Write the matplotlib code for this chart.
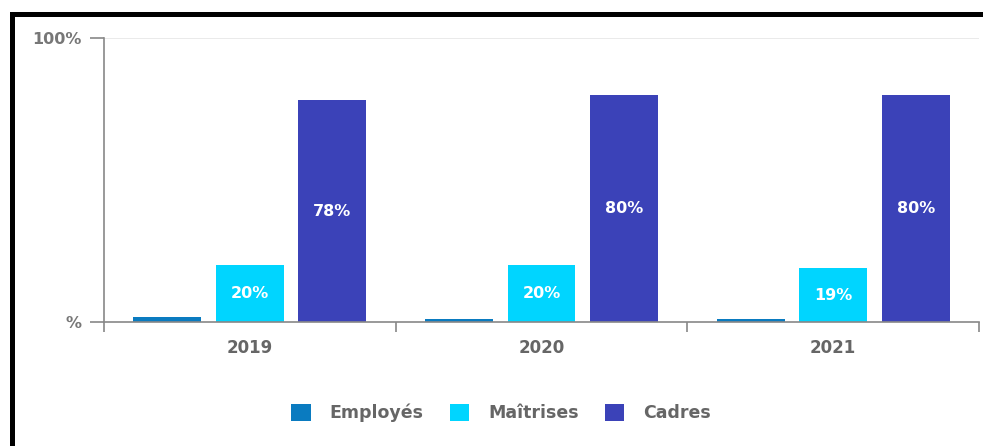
import matplotlib.pyplot as plt
from matplotlib.patches import Rectangle
import numpy as np

plt.rcParams['font.family'] = ['DejaVu Sans']

# Data
years = ['2019', '2020', '2021']
employes = [1.8, 1.0, 1.0]
maitrises = [20, 20, 19]
cadres = [78, 80, 80]
series_names = ['Employés', 'Maîtrises', 'Cadres']
colors = ['#0a7bc0', '#00d5ff', '#3b42b8']
show_labels = [False, True, True]

fig = plt.figure(figsize=(9.83, 4.46), dpi=100)
ax = fig.add_axes([104 / 983, 1 - 322 / 446, 875 / 983, 284 / 446])

x = np.arange(len(years))
width = 0.233
offset = 0.283
for i, (vals, name, col) in enumerate(zip([employes, maitrises, cadres], series_names, colors)):
    pos = x + (i - 1) * offset
    bars = ax.bar(pos, vals, width, color=col, label=name, zorder=3)
    if show_labels[i]:
        for b, v in zip(bars, vals):
            ax.text(b.get_x() + b.get_width() / 2, v / 2, f'{v:.0f}%',
                    ha='center', va='center', color='white',
                    fontsize=11.5, fontweight='bold', zorder=4)

ax.set_xlim(-0.5, 2.5)
ax.set_ylim(0, 100)
ax.set_yticks([0, 100])
ax.set_yticklabels(['%', '100%'])
ax.set_xticks(x)
ax.set_xticklabels(years)
ax.set_xticks([-0.5, 0.5, 1.5, 2.5], minor=True)

for s in ['top', 'right']:
    ax.spines[s].set_visible(False)
for s in ['left', 'bottom']:
    ax.spines[s].set_color('#888888')
    ax.spines[s].set_linewidth(1.2)
ax.spines['bottom'].set_zorder(5)

ax.tick_params(axis='y', length=10, color='#888888', width=1.2,
               labelcolor='#777777', labelsize=11.5, pad=6)
ax.tick_params(axis='x', which='major', length=0, labelcolor='#666666',
               labelsize=12, pad=12)
ax.tick_params(axis='x', which='minor', length=7, color='#888888', width=1.2)
for lab in ax.get_xticklabels() + ax.get_yticklabels():
    lab.set_fontweight('bold')

ax.axhline(100, color='#e6e6e6', lw=1.2, zorder=1)

leg = fig.legend(loc='center', bbox_to_anchor=(501 / 983, 1 - 413 / 446), ncol=3,
                 frameon=False, handlelength=1.1, handleheight=1.1,
                 handletextpad=1.1, columnspacing=1.5,
                 prop={'size': 12.5, 'weight': 'bold'})
for t in leg.get_texts():
    t.set_color('#666666')

# black frame on top and left
fig.add_artist(Rectangle((10 / 983, 0), 5 / 983, 1 - 12 / 446,
                         transform=fig.transFigure, color='black', lw=0))
fig.add_artist(Rectangle((10 / 983, 1 - 17 / 446), 1 - 10 / 983, 5 / 446,
                         transform=fig.transFigure, color='black', lw=0))

fig.savefig('out.png', dpi=100)
